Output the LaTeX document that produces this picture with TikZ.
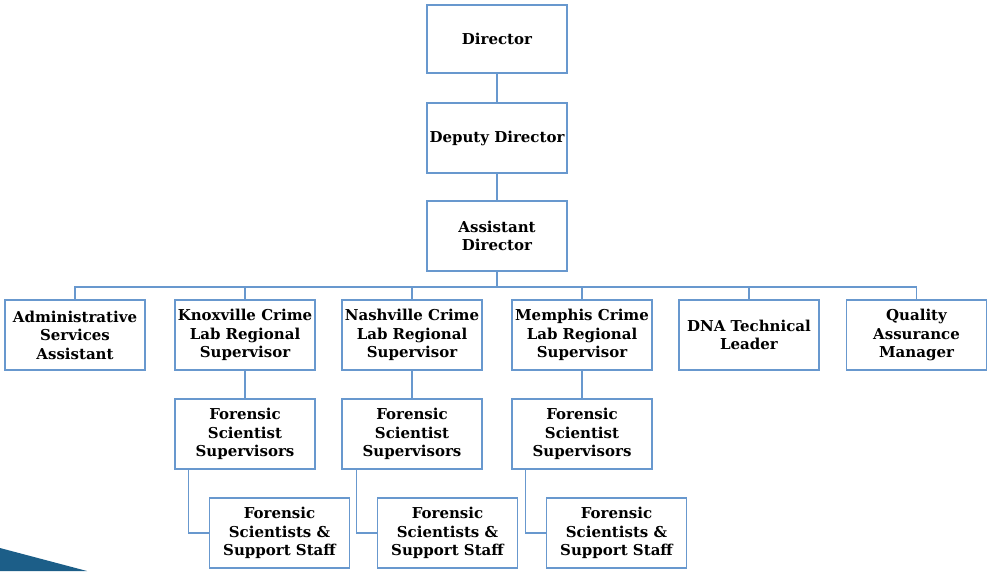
\documentclass[tikz,border=0pt]{standalone}
\usepackage{fontspec}
\setmainfont{DejaVu Serif}
\definecolor{boxline}{RGB}{104,152,206}
\definecolor{cornerblue}{RGB}{28,94,136}
\begin{document}
\begin{tikzpicture}[x=1pt,y=-1pt,
  orgbox/.style={draw=boxline, line width=1.5pt, fill=white, minimum width=140pt, minimum height=70pt,
    align=center, inner sep=1pt, font=\fontsize{15}{18.5}\selectfont\bfseries},
  link/.style={draw=boxline, line width=1.5pt}]
\useasboundingbox (0,0) rectangle (987,571);
\fill[cornerblue] (0,548) -- (87,571) -- (0,571) -- cycle;

\node[orgbox, minimum height=68pt] (dir) at (497,39) {Director};
\node[orgbox] (dep) at (497,138) {Deputy Director};
\node[orgbox] (asst) at (497,236) {Assistant\\Director};

\node[orgbox] (admin) at (75,335) {Administrative\\Services\\Assistant};
\node[orgbox] (knox) at (245,335) {Knoxville Crime\\Lab Regional\\Supervisor};
\node[orgbox] (nash) at (412,335) {Nashville Crime\\Lab Regional\\Supervisor};
\node[orgbox] (mem) at (582,335) {Memphis Crime\\Lab Regional\\Supervisor};
\node[orgbox] (dna) at (749,335) {DNA Technical\\Leader};
\node[orgbox] (qa) at (916.5,335) {Quality\\Assurance\\Manager};

\node[orgbox] (ksup) at (245,434) {Forensic\\Scientist\\Supervisors};
\node[orgbox] (nsup) at (412,434) {Forensic\\Scientist\\Supervisors};
\node[orgbox] (msup) at (582,434) {Forensic\\Scientist\\Supervisors};

\node[orgbox] (kstaff) at (279.5,533) {Forensic\\Scientists \&\\Support Staff};
\node[orgbox] (nstaff) at (447.5,533) {Forensic\\Scientists \&\\Support Staff};
\node[orgbox] (mstaff) at (616.5,533) {Forensic\\Scientists \&\\Support Staff};

\draw[link] (dir.south) -- (dep.north);
\draw[link] (dep.south) -- (asst.north);
\foreach \n in {admin,knox,nash,mem,dna,qa}
  \draw[link] (asst.south) -- ++(0,15) -| (\n.north);
\draw[link] (knox.south) -- (ksup.north);
\draw[link] (nash.south) -- (nsup.north);
\draw[link] (mem.south) -- (msup.north);
\draw[link] ([xshift=14pt]ksup.south west) |- (kstaff.west);
\draw[link] ([xshift=15pt]nsup.south west) |- (nstaff.west);
\draw[link] ([xshift=14pt]msup.south west) |- (mstaff.west);
\end{tikzpicture}
\end{document}
